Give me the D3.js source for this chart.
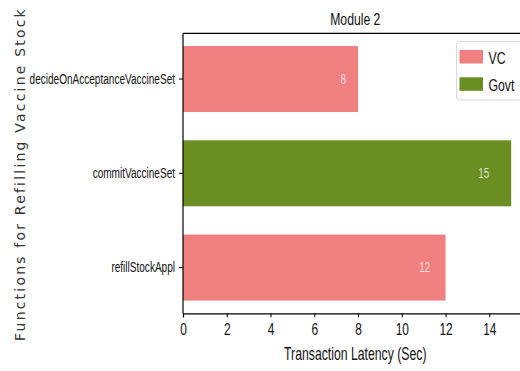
<!DOCTYPE html>
<html>
<head>
<meta charset="utf-8">
<script src="https://cdn.jsdelivr.net/npm/d3@7"></script>
<style>
  html, body { margin: 0; padding: 0; background: #fff; }
  svg { display: block; }
  .cond { font-family: "Liberation Sans", Arial, sans-serif; }
</style>
</head>
<body>
<svg id="chart" width="520" height="371"></svg>
<script>
// Transaction latency per smart-contract function (seconds)
const functions = ["decideOnAcceptanceVaccineSet", "commitVaccineSet", "refillStockAppl"];
const latency = [8, 15, 12];
const owner = ["VC", "Govt", "VC"];
const legendLabels = ["VC", "Govt"];
const legendColors = ["#f08080", "#6b8e23"];
const xTicks = [0, 2, 4, 6, 8, 10, 12, 14];
const xMax = 15.75;

const svg = d3.select("#chart");
const plotLeft = 183, plotRight = 527.6, plotTop = 33.3, plotBottom = 313.3;
const squeezeK = 0.7;

// narrow a text horizontally about its own anchor x
function squeeze(sel, k) {
  sel.each(function () {
    const t = d3.select(this);
    const x0 = +t.attr("x") || 0;
    t.attr("transform", `translate(${x0 * (1 - k)},0) scale(${k},1)`);
  });
}

const x = d3.scaleLinear().domain([0, xMax]).range([plotLeft, plotRight]);
const y = d3.scaleBand().domain(functions).range([plotTop, plotBottom])
  .paddingInner(0.3).paddingOuter(0.135);
const color = d3.scaleOrdinal().domain(legendLabels).range(legendColors);

const rows = functions.map((f, i) => ({ f, v: latency[i], who: owner[i] }));

// bars
svg.append("g").selectAll("rect").data(rows).join("rect")
  .attr("x", x(0))
  .attr("y", d => y(d.f))
  .attr("width", d => x(d.v) - x(0))
  .attr("height", y.bandwidth())
  .attr("fill", d => color(d.who));

// value labels inside bars
svg.append("g").attr("class", "cond").selectAll("text").data(rows).join("text")
  .attr("x", d => x(d.v * 0.9))
  .attr("y", d => y(d.f) + y.bandwidth() / 2)
  .attr("dy", "0.35em")
  .attr("font-size", 14)
  .attr("fill", "#fff")
  .attr("fill-opacity", 0.75)
  .text(d => d.v)
  .call(squeeze, squeezeK);

// frame: left and top spines
svg.append("line").attr("x1", plotLeft).attr("x2", plotLeft).attr("y1", plotTop).attr("y2", plotBottom)
  .attr("stroke", "#000").attr("stroke-width", 1.2);
svg.append("line").attr("x1", plotLeft).attr("x2", plotRight).attr("y1", plotTop).attr("y2", plotTop)
  .attr("stroke", "#000").attr("stroke-width", 1.2);

// x axis
const xAxis = svg.append("g").attr("class", "cond")
  .attr("transform", `translate(0,${plotBottom})`)
  .call(d3.axisBottom(x).tickValues(xTicks).tickSize(4).tickPadding(6).tickFormat(d3.format("d")));
xAxis.select(".domain").attr("stroke", "#000").attr("stroke-width", 1.2);
xAxis.selectAll("text").attr("font-size", 17).attr("fill", "#111")
  .attr("font-family", null).call(squeeze, squeezeK);

// y axis
const yAxis = svg.append("g").attr("class", "cond")
  .attr("transform", `translate(${plotLeft},0)`)
  .call(d3.axisLeft(y).tickSize(4).tickPadding(4));
yAxis.select(".domain").remove();
yAxis.selectAll("text").attr("font-size", 15).attr("fill", "#111")
  .attr("font-family", null).call(squeeze, 0.67);

// title
svg.append("text").attr("class", "cond")
  .attr("x", (plotLeft + plotRight) / 2).attr("y", 25)
  .attr("text-anchor", "middle").attr("font-size", 16.5).attr("fill", "#111")
  .text("Module 2")
  .call(squeeze, 0.74);

// x axis label
svg.append("text").attr("class", "cond")
  .attr("x", (plotLeft + plotRight) / 2).attr("y", 360)
  .attr("text-anchor", "middle").attr("font-size", 17.5).attr("fill", "#111")
  .text("Transaction Latency (Sec)")
  .call(squeeze, 0.7);

// y axis label
svg.append("text")
  .attr("transform", "translate(25,174) rotate(-90)")
  .attr("text-anchor", "middle")
  .attr("font-family", "DejaVu Sans, sans-serif")
  .attr("font-size", 14).attr("letter-spacing", 2.2)
  .attr("fill", "#333")
  .text("Functions for Refilling Vaccine Stock");

// legend
const lg = svg.append("g").attr("class", "cond");
lg.append("rect").attr("x", 456.5).attr("y", 41.5).attr("width", 80).attr("height", 58.5)
  .attr("rx", 3).attr("fill", "#fff").attr("fill-opacity", 0.9)
  .attr("stroke", "#d9d9d9").attr("stroke-width", 1);
const items = lg.selectAll("g.item").data(legendLabels).join("g")
  .attr("class", "item")
  .attr("transform", (d, i) => `translate(459.5,${50 + i * 27.3})`);
items.append("rect").attr("width", 23.5).attr("height", 13.5).attr("fill", d => color(d));
items.append("text").attr("x", 29).attr("y", 13.5).attr("font-size", 17).attr("fill", "#111")
  .text(d => d)
  .call(squeeze, 0.72);
</script>
</body>
</html>
